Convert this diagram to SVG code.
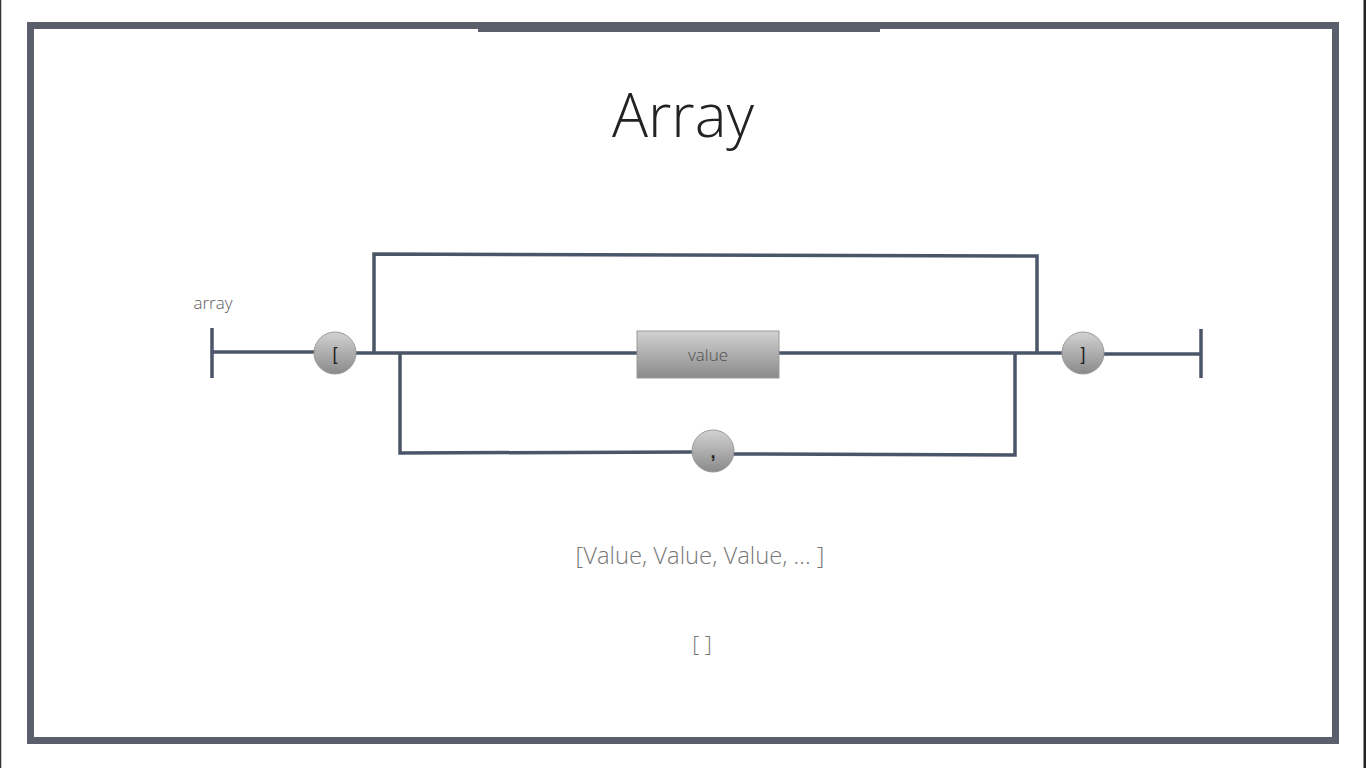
<svg xmlns="http://www.w3.org/2000/svg" width="1366" height="768" viewBox="0 0 1366 768">
<defs>
<linearGradient id="g" x1="0" y1="0" x2="0" y2="1">
<stop offset="0" stop-color="#d2d2d2"/>
<stop offset="1" stop-color="#8a8a8a"/>
</linearGradient>
<style>
.w{stroke:#4b5568;stroke-width:3.5;fill:none}
.n{fill:url(#g);stroke:#9a9a9a;stroke-width:1}
.t{font-family:"Open Sans","Liberation Sans",sans-serif;font-weight:300;text-anchor:middle}
</style>
</defs>
<rect width="1366" height="768" fill="#fff"/>
<line x1="0.5" y1="0" x2="0.5" y2="768" stroke="#333" stroke-width="1.5"/>
<line x1="1365" y1="0" x2="1365" y2="768" stroke="#222" stroke-width="3"/>
<g id="frame">
<rect x="30.5" y="25.5" width="1305" height="715" fill="none" stroke="#5b5f6c" stroke-width="7"/>
<rect x="478" y="27" width="402" height="5" fill="#5b5f6c"/>
</g>
<text class="t" x="683" y="137" font-size="60" fill="#222">Array</text>
<text class="t" x="213" y="309" font-size="17" fill="#5a5a5a">array</text>
<g id="connectors">
<line class="w" x1="212" y1="328" x2="212" y2="378"/>
<line class="w" x1="212" y1="352" x2="316" y2="352"/>
<line class="w" x1="354" y1="353" x2="637" y2="353"/>
<polyline class="w" points="374,353 374,254 1037,256 1037,353"/>
<polyline class="w" points="400,353 400,453 693,452"/>
<polyline class="w" points="733,454 1015,455 1015,353"/>
<line class="w" x1="779" y1="353" x2="1063" y2="353"/>
<line class="w" x1="1103" y1="354" x2="1201" y2="354"/>
<line class="w" x1="1201" y1="329" x2="1201" y2="378"/>
</g>
<g id="open">
<circle class="n" cx="335" cy="353" r="21"/>
<text x="335" y="360" font-family="Liberation Sans,sans-serif" font-size="18" text-anchor="middle" fill="#222">[</text>
</g>
<g id="value">
<rect class="n" x="637" y="331" width="142" height="47"/>
<text class="t" x="708" y="361" font-size="17" fill="#505050">value</text>
</g>
<g id="comma">
<circle class="n" cx="713" cy="451" r="21"/>
<text x="713" y="458" font-family="Liberation Sans,sans-serif" font-size="18" font-weight="bold" text-anchor="middle" fill="#222">,</text>
</g>
<g id="close">
<circle class="n" cx="1083" cy="353" r="21"/>
<text x="1083" y="360" font-family="Liberation Sans,sans-serif" font-size="18" text-anchor="middle" fill="#222">]</text>
</g>
<text class="t" x="700" y="564" font-size="23.8" fill="#777">[Value, Value, Value, ... ]</text>
<text class="t" x="702" y="652" font-size="22" fill="#777">[ ]</text>
</svg>
